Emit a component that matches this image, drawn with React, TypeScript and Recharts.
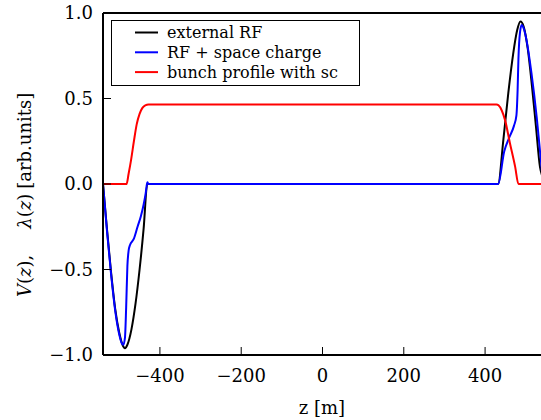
import { LineChart, Line, XAxis, YAxis, Legend, Label } from 'recharts';

const FONT = 'DejaVu Serif';

// external RF voltage (black)
const rfZ = [-540, -530, -520, -510, -500, -492, -486, -480, -470, -460, -450, -440, -431,
  432, 445, 457, 469, 479, 487, 495, 505, 515, 525, 535, 540];
const rfV = [0, -0.27, -0.52, -0.73, -0.87, -0.94, -0.96, -0.94, -0.85, -0.7, -0.5, -0.26, 0,
  0, 0.26, 0.53, 0.76, 0.9, 0.95, 0.92, 0.79, 0.58, 0.34, 0.1, 0.05];

// RF + space charge (blue)
const scZ = [-540, -530, -520, -510, -500, -494, -490, -486, -483, -480, -477, -474, -464, -455,
  -447, -440, -435, -431, -428, 432, 447, 459, 471, 477, 480, 482, 486, 490, 495, 502, 514, 527, 536, 540];
const scV = [0, -0.28, -0.53, -0.74, -0.88, -0.93, -0.94, -0.9, -0.72, -0.48, -0.39, -0.36, -0.32, -0.25,
  -0.19, -0.12, -0.055, 0.01, 0, 0, 0.19, 0.27, 0.34, 0.4, 0.55, 0.73, 0.89, 0.93, 0.91, 0.84, 0.65, 0.39, 0.17, 0.07];

// bunch profile with sc (red)
const bpZ = [-540, -482, -477, -471, -464, -457, -450, -443, -436, -428, 428, 433, 441, 449, 461, 474, 482, 540];
const bpV = [0, 0, 0.06, 0.14, 0.25, 0.35, 0.41, 0.445, 0.46, 0.465, 0.465, 0.46, 0.43, 0.375, 0.24, 0.1, 0, 0];

const xTicks = [-400, -200, 0, 200, 400];
const yTicks = [-1, -0.5, 0, 0.5, 1];

const series = [
  { name: 'external RF', color: '#000000', z: rfZ, v: rfV },
  { name: 'RF + space charge', color: '#0000ff', z: scZ, v: scV },
  { name: 'bunch profile with sc', color: '#ff0000', z: bpZ, v: bpV },
];

const toPoints = (zs: number[], vs: number[]) => zs.map((z, i) => ({ z, v: vs[i] }));
const fmtX = (v: number) => String(v).replace('-', '\u2212');
const fmtY = (v: number) => v.toFixed(1).replace('-', '\u2212');

const serif = { fontFamily: FONT };
const tickStyle = { fill: '#000', fontSize: 18, style: serif };
const spine = { stroke: '#000', strokeWidth: 2 };
const tickLn = { stroke: '#000', strokeWidth: 1 };

const LegendBox = () => (
  <div
    style={{
      width: 249,
      height: 66,
      border: '1px solid #000',
      boxSizing: 'border-box',
      background: '#fff',
      fontFamily: FONT,
    }}
  >
    <svg width={247} height={64} style={{ display: 'block' }}>
      {series.map((s, i) => (
        <g key={s.name}>
          <line x1={23} x2={46} y1={11.5 + i * 19.8} y2={11.5 + i * 19.8} stroke={s.color} strokeWidth={2} />
          <text x={55} y={17 + i * 19.8} fontSize={16} style={serif} fill="#000">
            {s.name}
          </text>
        </g>
      ))}
    </svg>
  </div>
);

const App = () => {
  return (
    <div style={{ position: 'absolute', left: 0, top: 0, width: 541, height: 420, overflow: 'hidden', background: '#fff', fontFamily: FONT }}>
      <LineChart width={560} height={420} margin={{ top: 12, right: 17, left: 3, bottom: 64 }} style={serif}>
        <XAxis
          xAxisId="b"
          type="number"
          dataKey="z"
          domain={[-540, 540]}
          ticks={xTicks}
          interval={0}
          tickFormatter={fmtX}
          height={1}
          tickSize={-8}
          tickMargin={22}
          allowDataOverflow
          axisLine={spine}
          tickLine={tickLn}
          tick={tickStyle}
        >
          <Label
            content={() => (
              <text x={322} y={414} textAnchor="middle" fontSize={18} style={serif} fill="#000">
                z [m]
              </text>
            )}
          />
        </XAxis>
        <XAxis
          xAxisId="t"
          orientation="top"
          type="number"
          dataKey="z"
          domain={[-540, 540]}
          ticks={xTicks}
          interval={0}
          height={1}
          tickSize={-8}
          allowDataOverflow
          axisLine={spine}
          tickLine={tickLn}
          tick={false}
        />
        <YAxis
          yAxisId="l"
          type="number"
          domain={[-1, 1]}
          ticks={yTicks}
          interval={0}
          tickFormatter={fmtY}
          width={100}
          tickSize={-8}
          tickMargin={18}
          allowDataOverflow
          axisLine={spine}
          tickLine={tickLn}
          tick={tickStyle}
        >
          <Label
            content={() => (
              <text transform="translate(31,297) rotate(-90)" x={0} y={0} fontSize={18} style={serif} fill="#000">
                <tspan fontStyle="italic">V</tspan>
                <tspan>(</tspan>
                <tspan fontStyle="italic">z</tspan>
                <tspan>),</tspan>
                <tspan dx={26} fontStyle="italic">λ</tspan>
                <tspan>(</tspan>
                <tspan fontStyle="italic">z</tspan>
                <tspan>)</tspan>
                <tspan dx={5}>[arb.units]</tspan>
              </text>
            )}
          />
        </YAxis>
        <YAxis
          yAxisId="r"
          orientation="right"
          type="number"
          domain={[-1, 1]}
          ticks={yTicks}
          interval={0}
          width={1}
          tickSize={-8}
          allowDataOverflow
          axisLine={spine}
          tickLine={tickLn}
          tick={false}
        />
        {series.map((s) => (
          <Line
            key={s.name}
            xAxisId="b"
            yAxisId="l"
            data={toPoints(s.z, s.v)}
            dataKey="v"
            name={s.name}
            type="monotone"
            stroke={s.color}
            strokeWidth={2}
            dot={false}
            activeDot={false}
            isAnimationActive={false}
          />
        ))}
        <Legend
          verticalAlign="middle"
          align="center"
          layout="horizontal"
          wrapperStyle={{ left: 111, top: 20, width: 249, height: 66 }}
          content={() => <LegendBox />}
        />
      </LineChart>
    </div>
  );
};

export default App;
